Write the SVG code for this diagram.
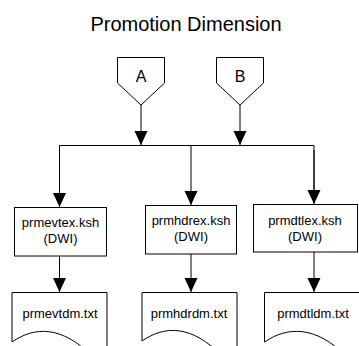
<svg xmlns="http://www.w3.org/2000/svg" width="359" height="346" viewBox="0 0 359 346">
<style>
.shape{fill:#fff;stroke:#000;stroke-width:1}
.line{fill:none;stroke:#000;stroke-width:1}
.t{font-family:"Liberation Sans",Arial,sans-serif;fill:#000;text-anchor:middle}
.lbl{font-size:13px}
.conn{font-size:16px}
.title{font-size:20px}
</style>
<defs>
<marker id="arr" markerUnits="userSpaceOnUse" markerWidth="14" markerHeight="14" refX="14" refY="6.5" orient="auto" viewBox="0 0 14 13">
<path d="M0,0 L14,6.5 L0,13 Z" fill="#000"/>
</marker>
</defs>
<rect width="359" height="346" fill="#fff"/>
<text class="t title" x="186" y="31">Promotion Dimension</text>

<g id="connectors">
<line class="line" x1="141" y1="105" x2="141" y2="145" marker-end="url(#arr)"/>
<line class="line" x1="240" y1="105" x2="240" y2="145" marker-end="url(#arr)"/>
<polyline class="line" points="59.5,205 59.5,145.5 314,145.5 314,203"/>
<line class="line" x1="59.5" y1="150" x2="59.5" y2="207" marker-end="url(#arr)"/>
<line class="line" x1="191" y1="145.5" x2="191" y2="205" marker-end="url(#arr)"/>
<line class="line" x1="314" y1="150" x2="314" y2="204" marker-end="url(#arr)"/>
<line class="line" x1="59.5" y1="256" x2="59.5" y2="292" marker-end="url(#arr)"/>
<line class="line" x1="191" y1="254" x2="191" y2="292" marker-end="url(#arr)"/>
<line class="line" x1="314" y1="252" x2="314" y2="292" marker-end="url(#arr)"/>
</g>

<g id="connA">
<polygon class="shape" points="117.5,57.5 164.5,57.5 164.5,83 141,105 117.5,83"/>
<text class="t conn" x="141" y="82">A</text>
</g>
<g id="connB">
<polygon class="shape" points="216.5,57.5 263.5,57.5 263.5,83 240,105 216.5,83"/>
<text class="t conn" x="240" y="82">B</text>
</g>

<g id="prmevtex">
<rect class="shape" x="14.5" y="207.5" width="92" height="48.5"/>
<text class="t lbl" x="60.5" y="227">prmevtex.ksh</text>
<text class="t lbl" x="60.5" y="243">(DWI)</text>
</g>
<g id="prmhdrex">
<rect class="shape" x="145.5" y="205.5" width="91" height="48.5"/>
<text class="t lbl" x="191" y="225">prmhdrex.ksh</text>
<text class="t lbl" x="191" y="241">(DWI)</text>
</g>
<g id="prmdtlex">
<rect class="shape" x="253.5" y="204.5" width="104" height="47.5"/>
<text class="t lbl" x="305" y="225">prmdtlex.ksh</text>
<text class="t lbl" x="305" y="241">(DWI)</text>
</g>

<g id="prmevtdm">
<path class="line" d="M12,342 V292.5 H107 V356"/>
<path class="shape" d="M12,342 C35,326 62,326 92,356"/>
<text class="t lbl" x="60" y="318">prmevtdm.txt</text>
</g>
<g id="prmhdrdm">
<path class="line" d="M142,341 V292.5 H237 V356"/>
<path class="shape" d="M142,341 C165,325 192,325 222,356"/>
<text class="t lbl" x="189" y="318">prmhdrdm.txt</text>
</g>
<g id="prmdtldm">
<path class="line" d="M264.5,342 V292.5 H362"/>
<path class="shape" d="M264.5,342 C288,326 316,326 346,356"/>
<text class="t lbl" x="313" y="318">prmdtldm.txt</text>
</g>
</svg>
